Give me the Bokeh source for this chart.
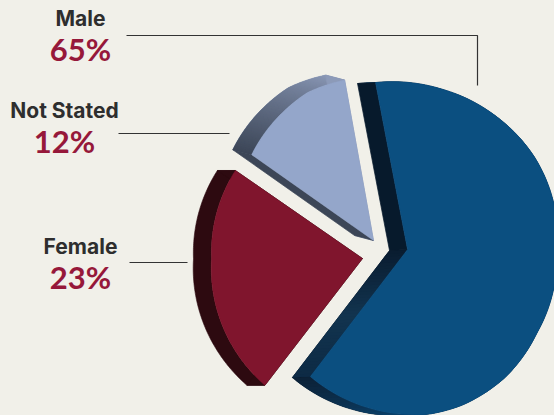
import numpy as np
from bokeh.plotting import figure
from bokeh.embed import file_html
from bokeh.resources import INLINE
from bokeh.core.properties import value

categories = ["Male", "Not Stated", "Female"]
percent_labels = ["65%", "12%", "23%"]
# share of the circle each slice occupies as drawn in the picture
slice_shares = [63.4, 12.4, 24.2]

BG = "#f1f0e9"
W, H = 554, 415

def Y(py):
    return H - py

# style per slice: apex (px), start angle, radius profile, extrusion, colours
style = {
    "Male": dict(apex=(407, 249), start=232.6,
                 rt=[0, .195, .248, .327, .414, .502, .627, .715, .807, .9, 1],
                 rr=[160, 166, 165, 161, 154, 151, 153, 157, 160, 164, 170],
                 off=(-18, 1), face="#0b4f80", edge_a=["#0a1d31", "#12344f", "#0d2a44"], edge_b="#071a2c",
                 arc=["#0c2238", "#0b4f80"], arc_end=0.22),
    "Not Stated": dict(apex=(373, 240), start=100.2, rt=[0, .31, .62, 1], rr=[163, 162, 156, 149],
                       off=(-19, -5), face="#94a6ca", edge_a=["#8c9ab8"], edge_b="#3c4657",
                       arc=["#8a98b6", "#3c4657"], arc_end=1.0),
    "Female": dict(apex=(362, 258), start=145.3, rt=[0, .4, 1], rr=[154.6, 151, 160],
                   off=(-18, 0), face="#80152d", edge_a=["#2d0a10"], edge_b="#2d0a10",
                   arc=["#2d0a10", "#2d0a10"], arc_end=1.0),
}

def mix(c1, c2, t):
    a = [int(c1[i:i+2], 16) for i in (1, 3, 5)]
    b = [int(c2[i:i+2], 16) for i in (1, 3, 5)]
    return "#%02x%02x%02x" % tuple(int(round(x + (y - x) * t)) for x, y in zip(a, b))

def ramp(stops, t):
    if len(stops) == 1:
        return stops[0]
    u = t * (len(stops) - 1)
    k = min(int(u), len(stops) - 2)
    return mix(stops[k], stops[k + 1], u - k)

p = figure(width=W, height=H, x_range=(0, W), y_range=(0, H), output_backend="svg",
           toolbar_location=None, min_border=0, outline_line_color=None,
           background_fill_color=BG, border_fill_color=BG)
p.axis.visible = False
p.grid.visible = False

for name, share in zip(categories, slice_shares):
    s = style[name]
    ax, ay = s["apex"][0], Y(s["apex"][1])
    dx, dy = s["off"][0], -s["off"][1]
    span = share * 3.6
    t = np.linspace(0, 1, 121)
    th = np.radians(s["start"] + span * t)
    r = np.interp(t, s["rt"], s["rr"])
    fx, fy = ax + r * np.cos(th), ay + r * np.sin(th)
    bx, by = fx + dx, fy + dy
    # arc side: solid silhouette first, then the gradient in overlapping strips
    p.patch(np.r_[fx, bx[::-1]], np.r_[fy, by[::-1]], fill_color=s["arc"][0], line_color=s["arc"][0], line_width=0.6)
    if s["arc"][0] != s["arc"][1]:
        xs, ys, cs = [], [], []
        for i in range(len(t) - 1):
            j = min(i + 2, len(t) - 1)
            xs.append([fx[i], fx[j], bx[j], bx[i]])
            ys.append([fy[i], fy[j], by[j], by[i]])
            cs.append(mix(s["arc"][0], s["arc"][1], min(t[i] / s["arc_end"], 1)))
        p.patches(xs, ys, fill_color=cs, line_color=None)
    # straight side at the start angle, shaded along its length from apex to rim
    base = s["edge_a"][0]
    p.patch([ax, fx[0], bx[0], ax + dx], [ay, fy[0], by[0], ay + dy], fill_color=base, line_color=base, line_width=0.7)
    if len(s["edge_a"]) > 1:
        u = np.linspace(0, 1, 41)
        ex, ey = ax + (fx[0] - ax) * u, ay + (fy[0] - ay) * u
        xs = [[ex[i], ex[min(i + 2, 40)], ex[min(i + 2, 40)] + dx, ex[i] + dx] for i in range(40)]
        ys = [[ey[i], ey[min(i + 2, 40)], ey[min(i + 2, 40)] + dy, ey[i] + dy] for i in range(40)]
        p.patches(xs, ys, fill_color=[ramp(s["edge_a"], u[i]) for i in range(40)], line_color=None)
    # straight side at the end angle
    p.patch([ax, fx[-1], bx[-1], ax + dx], [ay, fy[-1], by[-1], ay + dy], fill_color=s["edge_b"], line_color=s["edge_b"], line_width=0.7)
    # front face
    p.patch(np.r_[ax, fx], np.r_[ay, fy], fill_color=s["face"], line_color=s["face"], line_width=0.5)

# leader lines
LINE = "#333333"
p.line([126, 477, 477], [Y(35), Y(35), Y(85)], line_color=LINE, line_width=1.2)
p.line([118, 229], [Y(133), Y(133)], line_color=LINE, line_width=1.2)
p.line([129, 187], [Y(262), Y(262)], line_color=LINE, line_width=1.2)

label_pos = {"Male": (80, 18, 48), "Not Stated": (64, 110, 140), "Female": (80, 246, 276)}
for name, pct in zip(categories, percent_labels):
    x, y1, y2 = label_pos[name]
    p.text([x], [Y(y1)], text=[name], text_font=value("Inter"), text_font_style="bold", text_font_size="21px",
           text_color="#2e2e2e", text_align="center", text_baseline="middle")
    p.text([x], [Y(y2)], text=[pct], text_font=value("Lato"), text_font_style="bold", text_font_size="31px",
           text_color="#96183a", text_align="center", text_baseline="middle")

html = file_html(p, INLINE)
html = html.replace("<head>", "<head><style>html,body{margin:0;padding:0;background:%s;overflow:hidden}</style>" % BG, 1)
open("out.html", "w").write(html)
